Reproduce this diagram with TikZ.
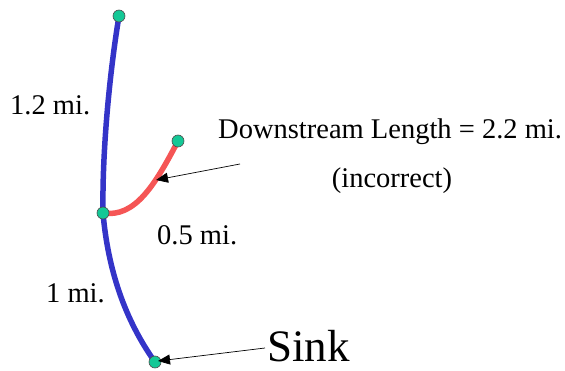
\documentclass[tikz,border=0pt]{standalone}
\usepackage{fontspec}
\setmainfont{Liberation Serif}
\usetikzlibrary{arrows.meta}
\definecolor{riverblue}{RGB}{52,52,200}
\definecolor{riverred}{RGB}{245,85,85}
\definecolor{dotfill}{RGB}{20,200,150}
\tikzset{
  dot/.style={circle,fill=dotfill,draw=black!70,line width=0.6pt,inner sep=0pt,minimum size=12pt},
  blueriver/.style={riverblue,line width=5.5pt},
  redriver/.style={riverred,line width=5.5pt},
  pointer/.style={black,line width=0.7pt,-{Triangle[length=12pt,width=10pt]}},
  lbl/.style={inner sep=0pt,font=\fontsize{28.5}{32}\selectfont}
}
\begin{document}
\begin{tikzpicture}[x=1pt,y=-1pt]
\useasboundingbox (0,0) rectangle (565,371);
\coordinate (topc) at (119,16);
\coordinate (junc) at (103,213);
\coordinate (redc) at (178,141);
\coordinate (sinkc) at (155,362);
\draw[blueriver] (topc) .. controls (110,70) and (102,150) .. (junc);
\draw[blueriver] (junc) .. controls (108,270) and (125,320) .. (sinkc);
\draw[redriver] (junc) .. controls (135,218) and (155,185) .. (redc);
\node[dot] (top) at (topc) {};
\node[dot] (jn) at (junc) {};
\node[dot] (red) at (redc) {};
\node[dot] (sink) at (sinkc) {};
\node[lbl,anchor=west] (l12) at (10,105) {1.2 mi.};
\node[lbl,anchor=west] (l05) at (157,235) {0.5 mi.};
\node[lbl,anchor=west] (l1) at (46,293) {1 mi.};
\node[lbl,anchor=west] (dl) at (218,132) {Downstream Length = 2.2 mi.};
\node[lbl] (inc) at (392,181) {(incorrect)};
\node[inner sep=0pt,text depth=0pt,anchor=base west,font=\fontsize{45}{50}\selectfont] (sk) at (267,361) {Sink};
\coordinate (a1s) at (240,164);
\coordinate (a1e) at (156,180);
\coordinate (a2s) at (265,348);
\coordinate (a2e) at (158,361);
\draw[pointer] (a1s) -- (a1e);
\draw[pointer] (a2s) -- (a2e);
\end{tikzpicture}
\end{document}
